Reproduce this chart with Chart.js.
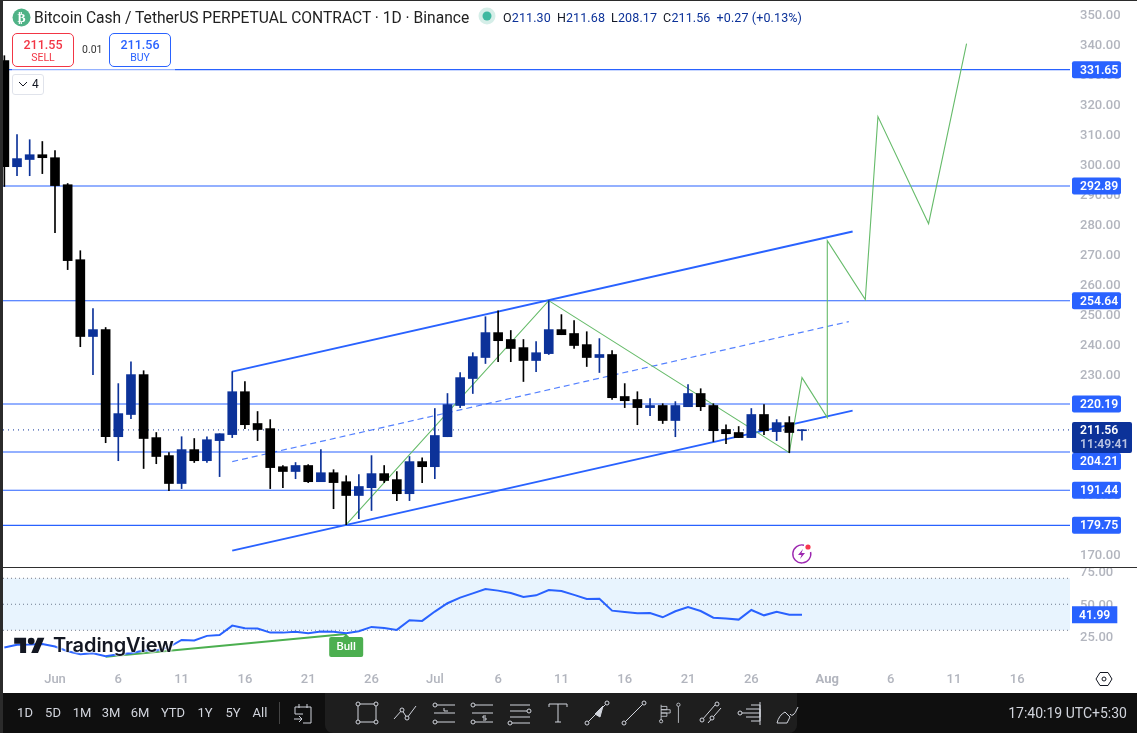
<!DOCTYPE html>
<html lang="en">
<head>
<meta charset="UTF-8">
<title>BCHUSDT 1D</title>
<script src="https://cdn.jsdelivr.net/npm/chart.js"></script>
<style>
    html, body { margin: 0; padding: 0; background: #fff; overflow: hidden; }
    #page { position: relative; width: 1137px; height: 733px; overflow: hidden; font-family: Roboto, sans-serif; color: #131722; }
    #page > * { position: absolute; }
    canvas { position: absolute; display: block; }
    #priceCanvas { left: 3px; top: 0; }
    #rsiCanvas { left: 3px; top: 568px; }
    #edgeLeft { left: 0; top: 0; width: 3px; height: 733px; background: #2b2b2b; }
    #edgeTop { left: 0; top: 0; width: 1137px; height: 1px; background: #2b2b2b; }
    #paneLine { left: 3px; top: 567px; width: 1134px; height: 1px; background: #2f2f2f; }
    #title { left: 34px; top: 9px; font-size: 15.6px; line-height: 18px; white-space: nowrap; color: #222; }
    #ohlc { left: 503px; top: 10px; font-size: 12.5px; letter-spacing: 0.12px; line-height: 16px; white-space: nowrap; color: #131722; }
    #ohlc b { font-weight: 400; color: #0c3299; margin-right: 6px; }
    #tradeVeil { left: 12px; top: 66px; width: 163px; height: 6px; background: rgba(255,255,255,0.5); }
    .trade { top: 33px; width: 60px; height: 32px; border: 1px solid; border-radius: 5px; text-align: center; background: #fff; }
    .trade .p { font-size: 12.5px; font-weight: 500; line-height: 15px; margin-top: 3px; }
    .trade .s { font-size: 10.5px; line-height: 12px; }
    #sell { left: 12px; border-color: #f23645; color: #f23645; }
    #buy { left: 109px; border-color: #2962ff; color: #2962ff; }
    #spread { left: 82px; top: 43px; font-size: 10.5px; line-height: 13px; color: #333; }
    #folded { left: 12px; top: 74px; width: 30px; height: 19px; border: 1px solid #e0e3eb; border-radius: 3px; background: #fff; font-size: 12px; line-height: 19px; }
    #folded span { position: absolute; left: 19px; }
    #logo { left: 14px; top: 634px; width: 160px; height: 22px; }
    #logoText { position: absolute; left: 39px; top: -1px; font-family: Inter, sans-serif; font-size: 20px; font-weight: 600; letter-spacing: -0.1px; line-height: 24px; color: #131722;
        text-shadow: 0 0 2px #fff, 0 0 2px #fff, 0 0 3px #fff; }
    #bottomBar { left: 3px; top: 693px; width: 1134px; height: 40px; background: #0f0f0f; }
    #toolPanel { left: 325px; top: 693px; width: 472px; height: 40px; background: #1e1e1e; border-radius: 0 0 8px 8px; }
    .range { top: 705px; font-size: 13px; line-height: 16px; color: #d1d4dc; transform: translateX(-50%); }
    #rangeSep { left: 279px; top: 702px; width: 1px; height: 22px; background: #444; }
    #clock { right: 10px; top: 705px; font-size: 14px; line-height: 16px; color: #d1d4dc; }
    .ico { top: 699px; width: 28px; height: 28px; fill: none; stroke: #d1d4dc; stroke-width: 1; }
</style>
</head>
<body>
<div id="page">
    <canvas id="priceCanvas" width="1134" height="567"></canvas>
    <canvas id="rsiCanvas" width="1134" height="125"></canvas>
    <div id="edgeLeft"></div>
    <div id="edgeTop"></div>
    <div id="paneLine"></div>

    <svg style="left:12px;top:8px" width="19" height="19"><circle cx="9.5" cy="9.5" r="9" fill="#4fb286"/><text x="9.5" y="13.5" text-anchor="middle" font-size="12" font-weight="700" fill="#fff" font-family="DejaVu Sans">₿</text></svg>
    <div id="title">Bitcoin Cash / TetherUS PERPETUAL CONTRACT · 1D · Binance</div>
    <svg style="left:478px;top:7px" width="18" height="18"><circle cx="9" cy="9" r="8.5" fill="#d5eee8"/><circle cx="9" cy="9" r="4.5" fill="#3fb8a0"/></svg>
    <div id="ohlc">O<b>211.30</b>H<b>211.68</b>L<b>208.17</b>C<b>211.56</b><b>+0.27 (+0.13%)</b></div>

    <div id="tradeVeil"></div>
    <div class="trade" id="sell"><div class="p">211.55</div><div class="s">SELL</div></div>
    <div id="spread">0.01</div>
    <div class="trade" id="buy"><div class="p">211.56</div><div class="s">BUY</div></div>
    <div id="folded"><svg style="position:absolute;left:5px;top:6px" width="10" height="7"><path d="M1 1l4 4 4-4" fill="none" stroke="#131722"/></svg><span>4</span></div>

    <svg style="left:791px;top:543px" width="22" height="22" viewBox="0 0 22 22"><path d="M13 2.2A9 9 0 1 0 19.6 9" fill="none" stroke="#9c27b0" stroke-width="1.4"/><path d="M12 6l-5 6h3.5l-1.5 4 5-6h-3.5z" fill="#9c27b0"/><circle cx="17" cy="4" r="2.6" fill="#f7374f"/></svg>

    <div id="logo">
        <svg style="position:absolute;left:0;top:2px" width="31" height="17" viewBox="0 2 36 20"><path d="M14 22H7V11H0V4h14v18zM28 22h-8l7.5-18h8L28 22z" fill="#131722"/><circle cx="20" cy="8" r="4" fill="#131722"/></svg>
        <div id="logoText">TradingView</div>
    </div>

    <svg style="left:1095px;top:670px" width="18" height="18" viewBox="0 0 18 18"><path d="M5 2.5h8L17 9l-4 6.5H5L1 9z" fill="none" stroke="#131722"/><circle cx="9" cy="9" r="2" fill="none" stroke="#131722"/></svg>

    <div id="bottomBar"></div>
    <div id="toolPanel"></div>
    <div class="range" style="left:25px">1D</div>
    <div class="range" style="left:53px">5D</div>
    <div class="range" style="left:82px">1M</div>
    <div class="range" style="left:111px">3M</div>
    <div class="range" style="left:140px">6M</div>
    <div class="range" style="left:173px">YTD</div>
    <div class="range" style="left:205px">1Y</div>
    <div class="range" style="left:233px">5Y</div>
    <div class="range" style="left:260px">All</div>
    <div id="rangeSep"></div>
    <svg class="ico" style="left:289px" viewBox="0 0 28 28"><path d="M6 8h16v16h-8M6 8v7h8M10 5v4M18 5v4M5 20h8M10 17l3 3-3 3"/></svg>
    <svg class="ico" style="left:353px" viewBox="0 0 28 28"><rect x="5" y="5" width="18" height="18"/><circle cx="5" cy="5" r="2" fill="#1e1e1e"/><circle cx="23" cy="5" r="2" fill="#1e1e1e"/><circle cx="5" cy="23" r="2" fill="#1e1e1e"/><circle cx="23" cy="23" r="2" fill="#1e1e1e"/></svg>
    <svg class="ico" style="left:392px" viewBox="0 0 28 28"><path d="M2 20l8-9 5 8 9-12"/><circle cx="10" cy="11" r="2" fill="#1e1e1e"/><circle cx="15" cy="19" r="2" fill="#1e1e1e"/></svg>
    <svg class="ico" style="left:431px" viewBox="0 0 28 28"><path d="M6 6h18M3 14h21M6 23h18"/><circle cx="4" cy="6" r="2"/><circle cx="4" cy="23" r="2"/><path d="M13 9v3h4"/></svg>
    <svg class="ico" style="left:469px" viewBox="0 0 28 28"><path d="M6 6h18M3 14h21M6 23h18"/><circle cx="4" cy="6" r="2"/><circle cx="4" cy="23" r="2"/><path d="M17 17h-3v2h3v2h-3"/></svg>
    <svg class="ico" style="left:506px" viewBox="0 0 28 28"><path d="M4 6h20M4 12h17M4 18h20M6 24h18"/><circle cx="23" cy="12" r="2"/><circle cx="4" cy="24" r="2"/></svg>
    <svg class="ico" style="left:544px" viewBox="0 0 28 28"><path d="M5 8V5h18v3M14 5v18M11 23h6"/></svg>
    <svg class="ico" style="left:583px" viewBox="0 0 28 28"><path d="M4 24L24 4"/><path d="M12 15l8-8-3 11z" fill="#d1d4dc"/><circle cx="4" cy="24" r="2" fill="#1e1e1e"/><circle cx="24" cy="4" r="2" fill="#1e1e1e"/></svg>
    <svg class="ico" style="left:620px" viewBox="0 0 28 28"><path d="M4 24L24 4"/><circle cx="4" cy="24" r="2" fill="#1e1e1e"/><circle cx="24" cy="4" r="2" fill="#1e1e1e"/></svg>
    <svg class="ico" style="left:657px" viewBox="0 0 34 28"><path d="M5 4v19M5 6h7v4H5M5 10h11v4H5M5 14h7v4H5M26 6v20"/><circle cx="5" cy="24" r="2"/><circle cx="26" cy="4" r="2"/></svg>
    <svg class="ico" style="left:697px" viewBox="0 0 28 28"><path d="M5 21L18 6M11 24l13-15"/><circle cx="5" cy="21" r="2" fill="#1e1e1e"/><circle cx="20" cy="5" r="2" fill="#1e1e1e"/><circle cx="15" cy="19" r="2" fill="#1e1e1e"/></svg>
    <svg class="ico" style="left:736px" viewBox="0 0 28 28"><path d="M24 3v23M6 14h18M10 10h14v8H10M15 6h9v16h-9"/><circle cx="4" cy="14" r="2"/></svg>
    <svg class="ico" style="left:773px" viewBox="0 0 28 28"><path d="M4 24h10l3-6-5-5q-6 3-8 11zM17 15q1 2 3 1t5-8"/></svg>
    <div id="clock">17:40:19 UTC+5:30</div>
</div>

<script>
    // Daily candles, days counted from Jun 1 (-4 is May 28).
    const days = [-4,-3,-2,-1,0,1,2,3,4,5,6,7,8,9,10,11,12,13,14,15,16,17,18,19,20,21,22,23,24,25,26,27,28,29,30,31,32,33,34,35,36,37,38,39,40,41,42,43,44,45,46,47,48,49,50,51,52,53,54,55,56,57,58,59];
    const opens = [334.7,299.3,301.7,303.3,302.3,293.3,268.3,242.7,245,209.3,216.7,230,209,203,193.7,205,201.3,208,210,224.3,213.7,212,199.3,197.7,199.7,194.3,197.3,194.3,189.7,192.3,197,195,190.3,201,199.3,209.3,219.7,228.7,235.7,244,241.7,239,234.7,237,245,243.7,240,235.7,236.7,222.7,221.7,219,219.7,214.7,219.3,223.7,219.7,211.7,210.7,209,216.7,211,214,211.30];
    const highs = [336.3,310,308.3,307.7,304.7,293.7,271.3,252,245.7,227,234.3,231.3,210.7,204,209.3,208.7,209.3,210.3,231,227.7,217.7,215,199.7,200.7,200,205,198.3,196.3,196.7,203,199.7,197.7,202.7,202.3,218.7,223.7,230.7,237.3,249.3,251.3,244.7,241.7,241,254.7,250,248,244.3,242,238,227,224.3,222,220.3,221,226.7,225.3,220.3,213.3,212.7,218.7,220,215,216,211.68];
    const lows = [292.7,296.3,296.3,297,277.3,265,239.3,230,207.3,201.3,215.3,198.7,200.3,191.3,192,200.7,200.7,196,209,212,208,192,192.3,195.3,194,194.3,185.3,180,182,184.7,194,188,188,194,195.3,209.3,219,223.7,233.7,234.3,234.3,227.7,231,236.7,243.3,238.7,232.7,230.7,221.7,219,213.3,216.3,213.7,209.3,219.3,218,207.7,207,209,209,210,208,204,208.17];
    const closes = [299.3,302,303.3,302.3,293,268,242.7,245,209.3,217,230,208.7,202.7,193.7,205,201.3,208.3,210.3,224.3,213.3,211.7,199,197.7,199.7,194.3,197.3,194,189.7,192.7,197,194.7,190.3,201,199.3,209.7,220,229,236,244,241.3,238.7,234.7,237.3,245,243.3,239.7,235.7,236.7,222.3,221.3,219,219.7,214.7,219.7,223.7,219.3,211.3,210.3,209,216.7,211.3,214,210.7,211.56];
    const rsiValues = [16.7,18.8,19,19.5,17.5,13.9,11.6,12.4,10.1,11.6,12.4,14.4,14.4,17,22.6,22.1,25.7,26.4,33.6,31.6,31.3,28.2,28.2,28.8,27.7,29,28.8,27.7,29.3,32.6,31.8,30.3,37.7,37.2,44.4,50.8,55.1,58.4,61.8,60.5,58.7,55.6,56.9,61,60.2,57.2,54.1,54.3,45.1,44.1,43.1,43.3,40,44.6,47.9,44.8,39.7,39,38.2,45.6,41.5,44.3,42,41.99];

    // Horizontal levels and drawn lines
    const levels = [331.65, 292.89, 254.64, 220.19, 204.21, 191.44, 179.75];
    const lastPrice = 211.56;
    const countdown = "11:49:41";
    const channelDays = [14, 63];
    const channelUpper = [231, 277.67];
    const channelLower = [171.33, 218];
    const channelMidDays = [14, 62.7];
    const channelMid = [201, 247.67];
    const pathDays = [23, 39, 58, 59, 61, 61, 64, 65, 69, 72];
    const pathPrices = [180, 254.67, 204, 229, 215.67, 274.67, 255, 316, 280.3, 340.3];
    const bullDays = [4, 23];
    const bullRsi = [9.7, 27.2];

    // Axis ticks
    const priceTicks = [170,180,190,200,210,220,230,240,250,260,270,280,290,300,310,320,330,340,350];
    const rsiTicks = [25, 50, 75];
    const rsiBands = [70, 50, 30];
    const timeTickDays = [0, 5, 10, 15, 20, 25, 30, 35, 40, 45, 50, 55, 61, 66, 71, 76];
    const timeTickLabels = ["Jun","6","11","16","21","26","Jul","6","11","16","21","26","Aug","6","11","16"];

    const BLUE = "#2962ff";
    const NAVY = "#0c3299";
    const GREEN = "#66bb6a";
    const AXIS_TEXT = "#b2b5be";
    const AXIS_FONT = { family: "Roboto", size: 13, weight: "500" };
    const TAG_FONT = "600 12.2px Roboto";
    const xMin = -4.107, xMax = 80.17;

    Chart.defaults.animation = false;
    Chart.defaults.font.family = "Roboto";

    function pts(xs, ys) {
        return xs.map((x, i) => ({ x: x, y: ys[i] }));
    }

    function lineSet(data, color, width, order, dash) {
        return { type: "line", data: data, borderColor: color, borderWidth: width, borderDash: dash || [],
            pointRadius: 0, tension: 0, fill: false, order: order };
    }

    const candleColors = closes.map((c, i) => c > opens[i] ? NAVY : "#000000");
    const wickData = days.map((d, i) => ({ x: d, y: [lows[i], highs[i]] }));
    const bodyData = days.map((d, i) => ({ x: d, y: [opens[i], closes[i]] }));
    const edgeDays = [xMin, xMax];

    const datasets = [
        { type: "bar", data: bodyData, backgroundColor: candleColors, barThickness: 9, minBarLength: 1, grouped: false, order: 0 },
        { type: "bar", data: wickData, backgroundColor: candleColors, barThickness: 1, grouped: false, order: 1 },
        lineSet(pts(pathDays, pathPrices), GREEN, 1.1, 2),
        lineSet(pts(channelDays, channelUpper), BLUE, 2, 3),
        lineSet(pts(channelDays, channelLower), BLUE, 2, 3),
        lineSet(pts(channelMidDays, channelMid), "rgba(41,98,255,0.8)", 1.2, 3, [6, 4]),
        lineSet(pts(edgeDays, [lastPrice, lastPrice]), NAVY, 1, 5, [1, 4])
    ];
    levels.forEach(v => datasets.push(lineSet(pts(edgeDays, [v, v]), BLUE, 1.1, 4)));

    function roundBox(ctx, x, y, w, h, r, color) {
        ctx.fillStyle = color;
        ctx.beginPath();
        ctx.roundRect(x, y, w, h, r);
        ctx.fill();
    }

    // price tags on the right axis, pushed down when they would hit the last price tag
    const priceTags = {
        id: "priceTags",
        afterDraw(chart) {
            const ctx = chart.ctx, y = chart.scales.y, left = chart.chartArea.right + 2;
            const lastY = y.getPixelForValue(lastPrice);
            const lastTop = lastY - 8, lastBottom = lastY + 23;
            ctx.save();
            ctx.textBaseline = "middle";
            levels.forEach(v => {
                let cy = y.getPixelForValue(v);
                if (cy + 8.5 > lastTop && cy - 8.5 < lastBottom) cy = lastBottom + 8.5;
                roundBox(ctx, left, cy - 8.5, 49, 17, 2, BLUE);
                ctx.font = TAG_FONT;
                ctx.fillStyle = "#fff";
                ctx.fillText(v.toFixed(2), left + 8, cy + 1);
            });
            roundBox(ctx, left, lastTop, 60, 31, 2, NAVY);
            ctx.font = TAG_FONT;
            ctx.fillStyle = "#fff";
            ctx.fillText(lastPrice.toFixed(2), left + 8, lastY + 1);
            ctx.fillStyle = "#b9c3e2";
            ctx.fillText(countdown, left + 8, lastY + 15);
            ctx.restore();
        }
    };

    new Chart(document.getElementById("priceCanvas"), {
        data: { datasets: datasets },
        options: {
            responsive: false,
            layout: { padding: 0 },
            plugins: { legend: { display: false }, tooltip: { enabled: false } },
            scales: {
                x: { type: "linear", display: false, min: xMin, max: xMax, offset: false },
                y: {
                    position: "right", min: 165.87, max: 354.87,
                    grid: { display: false, drawTicks: false }, border: { display: false },
                    afterBuildTicks: axis => { axis.ticks = priceTicks.map(v => ({ value: v })); },
                    afterFit: axis => { axis.width = 67; axis.paddingTop = 0; axis.paddingBottom = 0; },
                    ticks: { color: AXIS_TEXT, font: AXIS_FONT, padding: 10, labelOffset: 1, callback: v => v.toFixed(2) }
                }
            }
        },
        plugins: [priceTags]
    });

    // RSI pane tags
    const rsiTags = {
        id: "rsiTags",
        afterDraw(chart) {
            const ctx = chart.ctx, y = chart.scales.y, x = chart.scales.x;
            const last = rsiValues[rsiValues.length - 1];
            const cy = y.getPixelForValue(last), left = chart.chartArea.right + 2;
            ctx.save();
            ctx.textBaseline = "middle";
            ctx.font = TAG_FONT;
            roundBox(ctx, left, cy - 8.5, ctx.measureText(last.toFixed(2)).width + 14, 17, 0, BLUE);
            ctx.fillStyle = "#fff";
            ctx.fillText(last.toFixed(2), left + 7, cy + 1);

            const bx = x.getPixelForValue(bullDays[1]), by = y.getPixelForValue(bullRsi[1]);
            roundBox(ctx, bx - 17, by + 3, 34, 20, 2, "#4caf50");
            ctx.beginPath();
            ctx.moveTo(bx, by);
            ctx.lineTo(bx + 4, by + 4);
            ctx.lineTo(bx - 4, by + 4);
            ctx.fill();
            ctx.font = "500 11.5px Roboto";
            ctx.fillStyle = "#fff";
            ctx.textAlign = "center";
            ctx.fillText("Bull", bx, by + 13.5);
            ctx.restore();
        }
    };

    const rsiDatasets = [
        lineSet(pts(days, rsiValues), BLUE, 2, 0),
        lineSet(pts(bullDays, bullRsi), "#4caf50", 2, 1)
    ];
    rsiBands.forEach((v, i) => {
        const band = lineSet(pts(edgeDays, [v, v]), "#787b86", 1, 3, [1, 3]);
        if (i === 0) {
            band.fill = { value: rsiBands[2] };
            band.backgroundColor = "rgba(33,150,243,0.1)";
        }
        rsiDatasets.push(band);
    });

    new Chart(document.getElementById("rsiCanvas"), {
        data: { datasets: rsiDatasets },
        options: {
            responsive: false,
            layout: { padding: 0 },
            plugins: { legend: { display: false }, tooltip: { enabled: false } },
            scales: {
                x: {
                    type: "linear", min: xMin, max: xMax, offset: false,
                    grid: { display: false, drawTicks: false }, border: { display: false },
                    afterBuildTicks: axis => { axis.ticks = timeTickDays.map(v => ({ value: v })); },
                    afterFit: axis => { axis.height = 28; axis.paddingLeft = 0; axis.paddingRight = 0; },
                    ticks: {
                        color: AXIS_TEXT, padding: 7, maxRotation: 0, autoSkip: false,
                        font: c => (c.tick && c.tick.value === 61) ? { family: "Roboto", size: 13, weight: "700" } : AXIS_FONT,
                        callback: v => timeTickLabels[timeTickDays.indexOf(v)]
                    }
                },
                y: {
                    position: "right", min: 3.3, max: 77.9,
                    grid: { display: false, drawTicks: false }, border: { display: false },
                    afterBuildTicks: axis => { axis.ticks = rsiTicks.map(v => ({ value: v })); },
                    afterFit: axis => { axis.width = 67; axis.paddingTop = 0; axis.paddingBottom = 0; },
                    ticks: { color: AXIS_TEXT, font: AXIS_FONT, padding: 10, labelOffset: 1, callback: v => v.toFixed(2) }
                }
            }
        },
        plugins: [rsiTags]
    });
</script>
</body>
</html>
